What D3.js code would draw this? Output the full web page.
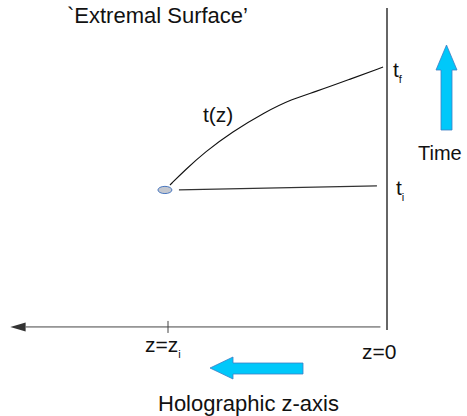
<!DOCTYPE html>
<html>
<head>
<meta charset="utf-8">
<script src="https://cdn.jsdelivr.net/npm/d3@7"></script>
<style>
  body { margin: 0; background: #fff; }
  text { font-family: "Liberation Sans", Arial, sans-serif; fill: #111; }
</style>
</head>
<body>
<svg class="root"></svg>
<script>
// z = holographic direction (0 at boundary), t = time (0 = t_i, 1 = t_f)
var curveZ = [0.991, 0.922, 0.831, 0.708, 0.557, 0.434, 0.329, 0.178, 0.018];
var curveT = [0.033, 0.157, 0.306, 0.471, 0.636, 0.744, 0.802, 0.901, 1.008];
var flatZ = [0.95, 0.046];
var flatT = [-0.008, 0.025];
var pointZ = 1.014, pointT = -0.008;

var tickZ = [1, 0];
var tickText = ["z=z", "z=0"];
var tickSub = ["i", ""];

var timeT = [1, 0];
var timeText = ["t", "t"];
var timeSub = ["f", "i"];

var width = 467, height = 416;

var x = d3.scaleLinear().domain([0, 1]).range([387, 168]);
var y = d3.scaleLinear().domain([0, 1]).range([189, 68]);

var svg = d3.select(".root")
    .attr("width", width)
    .attr("height", height);

// title
svg.append("text")
  .attr("x", 67).attr("y", 23)
  .style("font-size", "22px")
  .text("`Extremal Surface\u2019");

// vertical boundary line at z=0
svg.append("line")
  .attr("x1", x(0)).attr("x2", x(0))
  .attr("y1", y(1.496)).attr("y2", y(-1.165))
  .attr("stroke", "#666").attr("stroke-width", 2);

// holographic axis
var axisT = -1.14;
svg.append("line")
  .attr("x1", x(0.03)).attr("x2", x(1.65))
  .attr("y1", y(axisT)).attr("y2", y(axisT))
  .attr("stroke", "#444").attr("stroke-width", 1);

svg.append("path")
  .attr("d", d3.line()([[x(1.72), y(axisT)], [x(1.65), y(axisT) - 4.5], [x(1.65), y(axisT) + 4.5]]) + "Z")
  .attr("fill", "#333");

// ticks
svg.selectAll(".tick")
    .data(tickZ.filter((d) => d > 0))
  .enter().append("line")
    .attr("x1", (d) => x(d)).attr("x2", (d) => x(d))
    .attr("y1", y(axisT) - 6).attr("y2", y(axisT) + 6)
    .attr("stroke", "#444");

var tl = svg.selectAll(".ticklabel")
    .data(tickZ)
  .enter().append("text")
    .attr("x", (d) => d > 0 ? x(d) - 23 : x(d) - 25)
    .attr("y", (d) => d > 0 ? 352 : 359)
    .style("font-size", "21px");
tl.append("tspan").text((d, i) => tickText[i]);
tl.append("tspan")
  .attr("dy", 6)
  .style("font-size", "11px")
  .text((d, i) => tickSub[i]);

// time labels at the boundary
var tt = svg.selectAll(".timelabel")
    .data(timeT)
  .enter().append("text")
    .attr("x", (d) => d === 1 ? x(0) + 6 : x(0) + 9)
    .attr("y", (d) => d === 1 ? y(d) + 9 : y(d) + 6)
    .style("font-size", "21px");
tt.append("tspan").text((d, i) => timeText[i]);
tt.append("tspan")
  .attr("dy", 6)
  .style("font-size", "11px")
  .text((d, i) => timeSub[i]);

// extremal curve t(z)
var pts = curveZ.map((z, i) => [x(z), y(curveT[i])]);
svg.append("path")
  .attr("d", d3.line().curve(d3.curveBasis)(pts))
  .attr("fill", "none")
  .attr("stroke", "#111")
  .attr("stroke-width", 1.1);

svg.append("text")
  .attr("x", x(0.84)).attr("y", y(0.55))
  .style("font-size", "21px")
  .text("t(z)");

// straight segment at t_i
svg.append("line")
  .attr("x1", x(flatZ[0])).attr("y1", y(flatT[0]))
  .attr("x2", x(flatZ[1])).attr("y2", y(flatT[1]))
  .attr("stroke", "#333").attr("stroke-width", 1.3);

// initial point
svg.append("ellipse")
  .attr("cx", x(pointZ)).attr("cy", y(pointT))
  .attr("rx", 7).attr("ry", 3.6)
  .attr("fill", "#c3c7cf")
  .attr("stroke", "#4a78c0")
  .attr("stroke-width", 1);

// time arrow (up)
svg.append("path")
  .attr("d", "M446.5,45 L457,70 L452,70 L452,130 L441,130 L441,70 L436,70 Z")
  .attr("fill", "#00c8fa")
  .attr("stroke", "#3d7dc4")
  .attr("stroke-width", 0.8);

svg.append("text")
  .attr("x", 418).attr("y", 160)
  .style("font-size", "20px")
  .text("Time");

// holographic arrow (left)
svg.append("path")
  .attr("d", "M210,368 L233,357 L233,363 L303,363 L303,374 L233,374 L233,379 Z")
  .attr("fill", "#00c8fa")
  .attr("stroke", "#3d7dc4")
  .attr("stroke-width", 0.8);

svg.append("text")
  .attr("x", 158).attr("y", 411)
  .style("font-size", "22px")
  .text("Holographic z-axis");
</script>
</body>
</html>
